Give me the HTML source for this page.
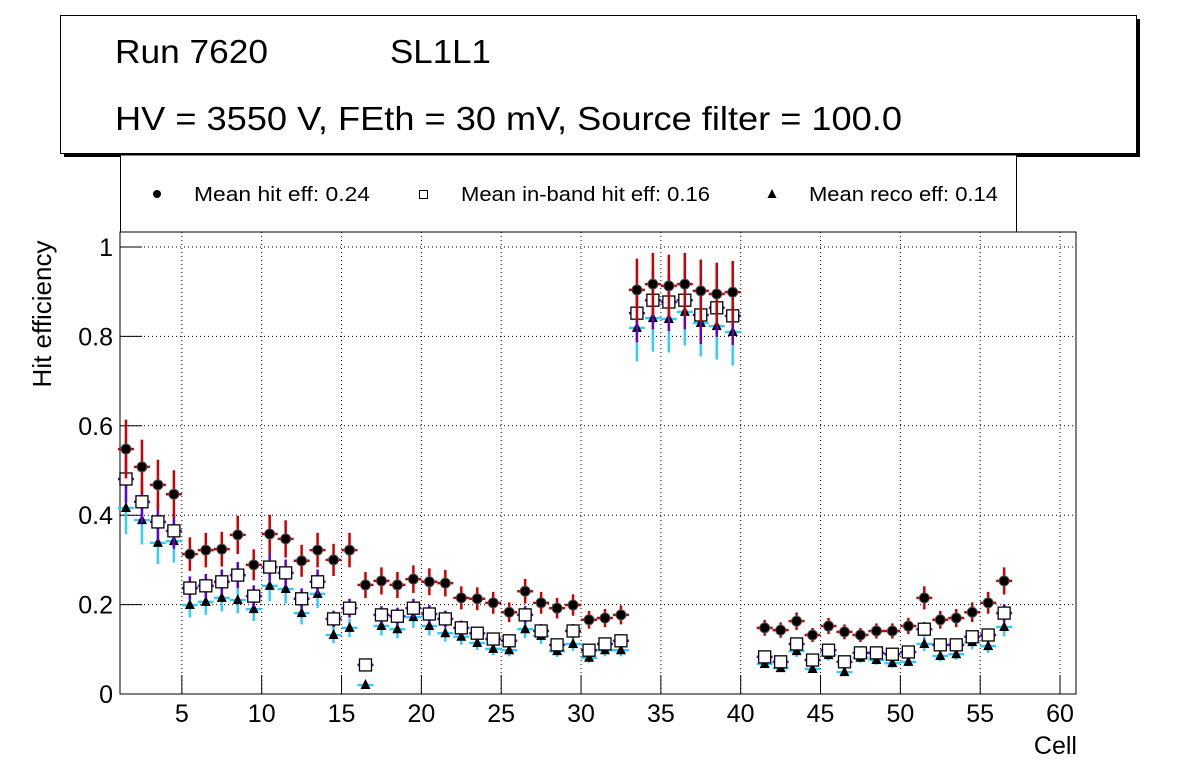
<!DOCTYPE html>
<html><head><meta charset="utf-8"><style>
html,body{margin:0;padding:0;background:#fff;}
svg{display:block;font-family:"Liberation Sans",Arial,sans-serif;}
</style></head><body>
<svg id="chart" width="1196" height="772" viewBox="0 0 1196 772" xmlns="http://www.w3.org/2000/svg">
<g>
<rect x="64" y="19" width="1076" height="138" fill="#000"/>
<rect x="60.5" y="15.5" width="1076" height="138" fill="#fff" stroke="#000" stroke-width="1"/>
<text x="115" y="63" font-size="33" textLength="153" lengthAdjust="spacingAndGlyphs">Run 7620</text>
<text x="390" y="63" font-size="33" textLength="101" lengthAdjust="spacingAndGlyphs">SL1L1</text>
<text x="115" y="130" font-size="33" textLength="787" lengthAdjust="spacingAndGlyphs">HV = 3550 V, FEth = 30 mV, Source filter = 100.0</text>
</g>
<g>
<rect x="120.5" y="155" width="896" height="77" fill="#fff" stroke="#000" stroke-width="1"/>
<circle cx="157" cy="194" r="4" fill="#000"/>
<text x="194" y="201" font-size="20" textLength="176" lengthAdjust="spacingAndGlyphs">Mean hit  eff: 0.24</text>
<rect x="419.5" y="190.5" width="8" height="8" fill="#fff" stroke="#000"/>
<text x="461" y="201" font-size="20" textLength="249" lengthAdjust="spacingAndGlyphs">Mean in-band hit eff: 0.16</text>
<polygon points="772,189 776.5,198 767.5,198" fill="#000"/>
<text x="809" y="201" font-size="20" textLength="189" lengthAdjust="spacingAndGlyphs">Mean reco eff: 0.14</text>
</g>
<g id="grid"></g>
<g id="axes"></g>
<g id="marks"></g>
<text x="51" y="314" font-size="26" text-anchor="middle" transform="rotate(-90 51 314)">Hit efficiency</text>
<text x="1077" y="754" font-size="25" text-anchor="end">Cell</text>
</svg>
<script>
const hitEff = [0.548,0.508,0.468,0.447,0.313,0.322,0.324,0.356,0.289,0.358,0.347,0.298,0.322,0.300,0.322,0.244,0.253,0.244,0.257,0.251,0.248,0.215,0.213,0.204,0.183,0.230,0.204,0.192,0.199,0.166,0.170,0.177,
0.904,0.917,0.913,0.917,0.902,0.895,0.899,null,
0.148,0.143,0.163,0.132,0.152,0.139,0.132,0.141,0.141,0.152,0.215,0.166,0.170,0.183,0.204,0.253];
const inbandEff = [0.481,0.430,0.385,0.365,0.237,0.242,0.251,0.266,0.219,0.284,0.271,0.213,0.251,0.168,0.192,0.065,0.177,0.174,0.192,0.179,0.168,0.148,0.136,0.123,0.119,0.177,0.141,0.110,0.141,0.098,0.112,0.119,
0.852,0.881,0.877,0.881,0.848,0.864,0.846,null,
0.083,0.072,0.112,0.076,0.098,0.072,0.092,0.092,0.089,0.094,0.145,0.110,0.110,0.128,0.132,0.181];
const recoEff = [0.416,0.389,0.338,0.342,0.199,0.206,0.215,0.210,0.190,0.242,0.235,0.181,0.224,0.132,0.148,0.020,0.152,0.145,0.172,0.152,0.136,0.128,0.114,0.101,0.098,0.145,0.130,0.096,0.112,0.081,0.098,0.098,
0.819,0.841,0.839,0.855,0.830,0.823,0.810,null,
0.067,0.058,0.096,0.056,0.087,0.049,0.081,0.076,0.069,0.072,0.112,0.085,0.089,0.116,0.107,0.150];
const xTicks = [5,10,15,20,25,30,35,40,45,50,55,60];
const yTicks = [0,0.2,0.4,0.6,0.8,1];
const yTickLabels = ["0","0.2","0.4","0.6","0.8","1"];

const NS="http://www.w3.org/2000/svg";
const L=120,R=1076,T=232,B=694;
const XMIN=1.125,XMAX=61.0,YMIN=0,YMAX=1.0336;
function sx(v){return L+(v-XMIN)/(XMAX-XMIN)*(R-L);}
function sy(v){return B-(v-YMIN)/(YMAX-YMIN)*(B-T);}
function mk(tag,attrs,parent){const e=document.createElementNS(NS,tag);for(const k in attrs)e.setAttribute(k,attrs[k]);parent.appendChild(e);return e;}
const grid=document.getElementById('grid'),axes=document.getElementById('axes'),marks=document.getElementById('marks');

mk('rect',{x:L,y:T,width:R-L,height:B-T,fill:'none',stroke:'#000','stroke-width':1},axes);
xTicks.forEach(t=>{
  const x=sx(t);
  const g=mk('line',{x1:x,x2:x,y1:T,y2:B,stroke:'#000','stroke-width':1,'stroke-dasharray':'1,3'},grid);
  
  
  mk('line',{x1:x,x2:x,y1:B,y2:B-19,stroke:'#000'},axes);
  const tx=mk('text',{x:x,y:B+28,'font-size':25,'text-anchor':'middle'},axes);
  tx.textContent=String(t);
  
  
});
yTicks.forEach((t,i)=>{
  const y=sy(t);
  if(t>0){const g=mk('line',{x1:L,x2:R,y1:y,y2:y,stroke:'#000','stroke-width':1,'stroke-dasharray':'1,3'},grid);
  
  }
  mk('line',{x1:L,x2:L+22,y1:y,y2:y,stroke:'#000'},axes);
  const tx=mk('text',{x:113,y:y+9,'font-size':25,'text-anchor':'end'},axes);
  tx.textContent=yTickLabels[i];
  
  
});

function series(vals,color,frac,cap,kind,name){
  const g=mk('g',{},marks);
  
  
  vals.forEach((v,i)=>{
    if(v===null)return;
    const c=i+1.5, x=sx(c), y=sy(v);
    const err=Math.min(frac*v,cap);
    mk('line',{x1:x,x2:x,y1:sy(v+err),y2:sy(v-err),stroke:color,'stroke-width':2.5},g);
    mk('line',{x1:sx(c-0.5),x2:sx(c+0.5),y1:y,y2:y,stroke:color,'stroke-width':2.5},g);
    let m;
    if(kind==='circle') m=mk('circle',{cx:x,cy:y,r:5,fill:'#000',stroke:'#555','stroke-width':1},g);
    else if(kind==='square') m=mk('rect',{x:x-6,y:y-6,width:12,height:12,fill:'#fff',stroke:'#000','stroke-width':1.3},g);
    else m=mk('polygon',{points:`${x},${y-6} ${x+5},${y+4} ${x-5},${y+4}`,fill:'#000'},g);
    
    
  });
}
series(recoEff,'#33ccff',0.14,0.075,'tri','reco-eff');
series(inbandEff,'#6600cc',0.11,0.065,'square','inband-eff');
series(hitEff,'#cc0000',0.12,0.07,'circle','hit-eff');
</script>
</body></html>
